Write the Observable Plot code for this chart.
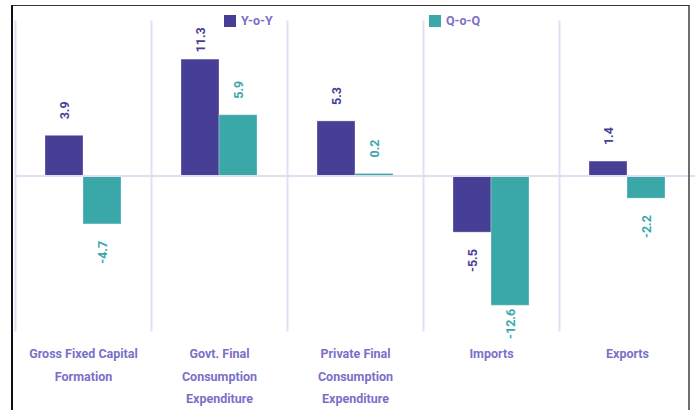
<!DOCTYPE html>
<html>
<head>
<meta charset="utf-8">
<script src="https://cdn.jsdelivr.net/npm/d3@7"></script>
<script src="https://cdn.jsdelivr.net/npm/@observablehq/plot@0.6"></script>
<style>
  html, body { margin: 0; padding: 0; background: #fff; }
  #wrap { position: relative; width: 697px; height: 410px; overflow: hidden; font-family: Roboto, "Noto Sans", sans-serif; }
  #border { position: absolute; left: 11px; top: 5px; width: 679px; height: 430px;
            border-left: 2px solid #111; border-top: 1.5px solid #333; border-right: 2px solid #6e6e6e; box-sizing: border-box; }
  .leg { position: absolute; top: 13px; font-size: 12.5px; font-weight: bold; color: #7b70c9; display: flex; align-items: center; }
  .sw { width: 12px; height: 12px; margin-right: 5px; display: inline-block; }
  #chart { position: absolute; left: 0; top: 0; }
</style>
</head>
<body>
<div id="wrap">
  <div id="chart"></div>
  <div id="border"></div>
  <div id="legend"></div>
</div>
<script>
const categories = [
  "Gross Fixed Capital Formation",
  "Govt. Final Consumption Expenditure",
  "Private Final Consumption Expenditure",
  "Imports",
  "Exports"
];
const categoryLines = [
  ["Gross Fixed Capital", "Formation"],
  ["Govt. Final", "Consumption", "Expenditure"],
  ["Private Final", "Consumption", "Expenditure"],
  ["Imports"],
  ["Exports"]
];
const series = ["Y-o-Y", "Q-o-Q"];
const yoy = [3.9, 11.3, 5.3, -5.5, 1.4];
const qoq = [-4.7, 5.9, 0.2, -12.6, -2.2];
const colors = ["#473f96", "#3aa8a9"];

const data = [];
categories.forEach((c, i) => {
  data.push({category: c, series: series[0], value: yoy[i]});
  data.push({category: c, series: series[1], value: qoq[i]});
});

const gridColor = "#e1def2";
const labelColor = "#7b70c9";
// label placement: a fixed gap beyond the bar end, kept inside the plot area
const gap = 1.6;
const posLabelY = d => Math.min(d.value + gap, 12.0);
const negLabelY = d => Math.max(d.value - gap, -12.9);

const chart = Plot.plot({
  width: 697,
  height: 410,
  marginTop: 21,
  marginBottom: 80,
  marginLeft: 15,
  marginRight: 2,
  style: {fontFamily: "Roboto, 'Noto Sans', sans-serif", background: "transparent"},
  fx: {domain: categories, padding: 0, label: null, axis: null},
  x: {domain: series, paddingInner: 0, paddingOuter: 0.757, axis: null},
  y: {domain: [-15, 15], axis: null},
  color: {domain: series, range: colors},
  marks: [
    Plot.frame({anchor: "left", stroke: gridColor, strokeWidth: 2}),
    Plot.barY(data, {fx: "category", x: "series", y: "value", fill: "series",
      stroke: "#ffffff", strokeOpacity: 0.3, strokeWidth: 1}),
    Plot.ruleY([0], {stroke: gridColor, strokeWidth: 2}),
    Plot.text(data.filter(d => d.value >= 0), {
      fx: "category", x: "series", y: posLabelY, text: d => d.value.toFixed(1),
      fill: "series", rotate: -90, textAnchor: "start", fontWeight: "bold", fontSize: 12.5
    }),
    Plot.text(data.filter(d => d.value < 0), {
      fx: "category", x: "series", y: negLabelY, text: d => d.value.toFixed(1),
      fill: "series", rotate: -90, textAnchor: "end", fontWeight: "bold", fontSize: 12.5
    }),
    Plot.axisFx({
      anchor: "bottom", tickSize: 0, tickPadding: 11, label: null,
      tickFormat: d => categoryLines[categories.indexOf(d)].join("\n"),
      lineHeight: 1.83, fontSize: 12.5, fontWeight: "bold", fill: labelColor
    })
  ]
});
document.getElementById("chart").appendChild(chart);

// legend (overlaid at the top of the plot area)
const legendPos = [224, 429];
const legend = document.getElementById("legend");
series.forEach((s, i) => {
  const item = document.createElement("div");
  item.className = "leg";
  item.style.left = legendPos[i] + "px";
  const sw = document.createElement("span");
  sw.className = "sw";
  sw.style.background = colors[i];
  item.appendChild(sw);
  item.appendChild(document.createTextNode(s));
  legend.appendChild(item);
});
</script>
</body>
</html>
